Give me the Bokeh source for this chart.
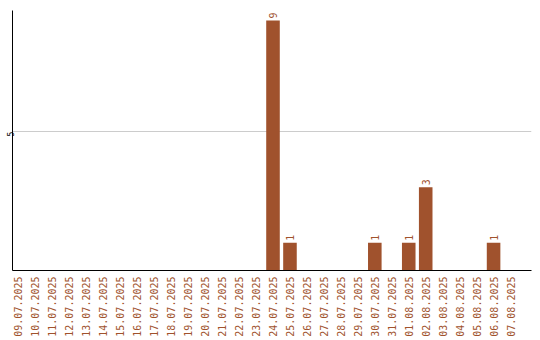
import math

from bokeh.core.properties import value
from bokeh.embed import file_html
from bokeh.models import ColumnDataSource, FixedTicker, Range1d
from bokeh.plotting import figure
from bokeh.resources import INLINE

# Daily counts, one entry per day
dates = [
    "09.07.2025", "10.07.2025", "11.07.2025", "12.07.2025", "13.07.2025",
    "14.07.2025", "15.07.2025", "16.07.2025", "17.07.2025", "18.07.2025",
    "19.07.2025", "20.07.2025", "21.07.2025", "22.07.2025", "23.07.2025",
    "24.07.2025", "25.07.2025", "26.07.2025", "27.07.2025", "28.07.2025",
    "29.07.2025", "30.07.2025", "31.07.2025", "01.08.2025", "02.08.2025",
    "03.08.2025", "04.08.2025", "05.08.2025", "06.08.2025", "07.08.2025",
]
counts = [
    0, 0, 0, 0, 0,
    0, 0, 0, 0, 0,
    0, 0, 0, 0, 0,
    9, 1, 0, 0, 0,
    0, 1, 0, 1, 3,
    0, 0, 0, 1, 0,
]
y_ticks = [5]

BAR = "#A0522D"
MONO = "DejaVu Sans Mono"

idx = list(range(len(dates)))
src = ColumnDataSource(dict(x=idx, top=counts))
nz = [i for i in idx if counts[i] > 0]
lbl = ColumnDataSource(dict(x=nz, y=[counts[i] for i in nz],
                            t=[str(counts[i]) for i in nz]))

p = figure(
    width=540, height=340,
    output_backend="svg", toolbar_location=None,
    x_range=Range1d(-0.353, 30.235), y_range=Range1d(0, 9.36),
    min_border_left=11, min_border_right=9,
    min_border_top=10, min_border_bottom=70,
)
p.outline_line_color = None
p.background_fill_color = "white"

p.vbar(x="x", top="top", width=0.8, source=src,
       fill_color=BAR, line_color=None)

p.text(x="x", y="y", text="t", source=lbl, angle=math.pi / 2,
       text_align="left", text_baseline="middle", y_offset=-2,
       text_font=value(MONO), text_font_size="10px", text_color=BAR)

# x axis: one label per day, rotated
xa = p.xaxis[0]
xa.ticker = FixedTicker(ticks=idx)
xa.major_label_overrides = {i: d for i, d in enumerate(dates)}
xa.major_label_orientation = math.pi / 2
xa.major_label_text_font = MONO
xa.major_label_text_font_size = "10px"
xa.major_label_text_color = BAR
xa.major_label_standoff = 6
xa.major_tick_in = 0
xa.major_tick_out = 0
xa.minor_tick_in = 0
xa.minor_tick_out = 0
xa.axis_line_color = "black"

ya = p.yaxis[0]
ya.ticker = FixedTicker(ticks=y_ticks)
ya.major_label_orientation = math.pi / 2
ya.major_label_text_font = MONO
ya.major_label_text_font_size = "8px"
ya.major_label_text_color = "black"
ya.major_label_standoff = 2
ya.major_tick_in = 0
ya.major_tick_out = 0
ya.minor_tick_in = 0
ya.minor_tick_out = 0
ya.axis_line_color = "black"

p.xgrid.grid_line_color = None
p.ygrid.ticker = FixedTicker(ticks=y_ticks)
p.ygrid.grid_line_color = "#cccccc"

open("out.html", "w").write(file_html(p, INLINE))
